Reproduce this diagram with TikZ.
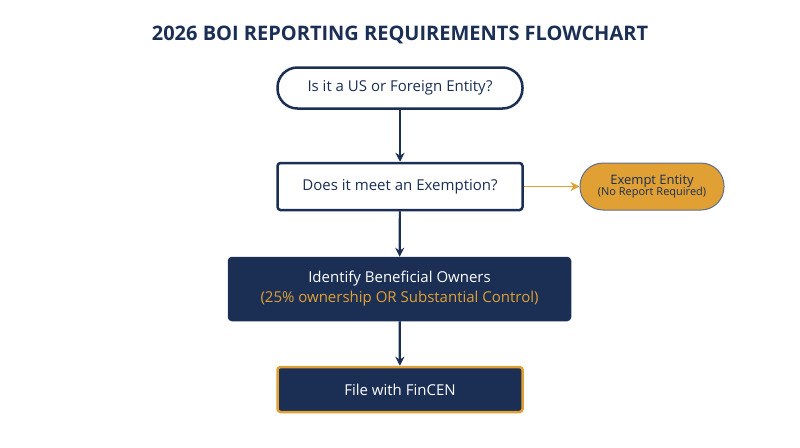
\documentclass[tikz,border=0pt]{standalone}
\usepackage{fontspec}
\setmainfont{Open Sans}
\usetikzlibrary{arrows.meta}
\definecolor{navy}{HTML}{1B2F55}
\definecolor{gold}{HTML}{E0A033}
\begin{document}
\begin{tikzpicture}[x=1pt,y=-1pt,
  box/.style={draw=navy,line width=2.5pt,minimum width=245pt,minimum height=45pt,font=\fontsize{15}{18}\selectfont,text=navy,align=center},
  arr/.style={-{Stealth[length=9pt,width=9pt]},line width=2.2pt,draw=navy}]
\useasboundingbox (0,0) rectangle (800,447);
\node[font=\bfseries\fontsize{20}{24}\selectfont,text=navy] (title) at (400,35) {2026 BOI REPORTING REQUIREMENTS FLOWCHART};
\node[box,fill=white,rounded corners=20pt,minimum height=41pt] (a) at (400,88) {Is it a US or Foreign Entity?};
\node[box,fill=white,rounded corners=3pt,minimum height=47pt] (b) at (400,186.5) {Does it meet an Exemption?};
\node[draw=navy!70,line width=1pt,fill=gold,rounded corners=23pt,minimum width=144pt,minimum height=47pt,align=center,text=navy] (e) at (652,186.5)
  {{\fontsize{13}{16}\selectfont Exempt Entity}\\[-1pt]{\fontsize{11}{13}\selectfont (No Report Required)}};
\node[box,fill=navy,draw=navy,rounded corners=3pt,minimum width=341pt,minimum height=62pt,text=white] (c) at (399.5,289)
  {Identify Beneficial Owners\\[2pt]\textcolor{gold}{(25\% ownership OR Substantial Control)}};
\node[box,fill=navy,draw=gold,rounded corners=3pt,minimum height=45pt,text=white] (d) at (400,389.5) {File with FinCEN};
\draw[arr] (a) -- (b);
\draw[arr] (b) -- (c);
\draw[arr] (c) -- (d);
\draw[arr,draw=gold,line width=1.8pt] (b) -- (e);
\end{tikzpicture}
\end{document}
